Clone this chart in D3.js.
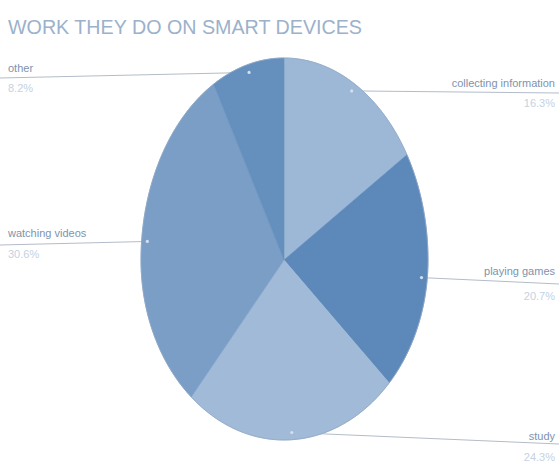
<!DOCTYPE html>
<html>
<head>
<meta charset="utf-8">
<script src="https://cdn.jsdelivr.net/npm/d3@7/dist/d3.min.js"></script>
<style>
  html, body { margin: 0; padding: 0; background: #ffffff; }
  svg { display: block; }
  text { font-family: "Liberation Sans Narrow", "Liberation Sans", Arial, sans-serif; }
</style>
</head>
<body>
<svg id="chart" width="559" height="468"></svg>
<script>
// Activities and their shares (%), clockwise from 12 o'clock
const categories = ["collecting information", "playing games", "study", "watching videos", "other"];
const shares = [16.3, 20.7, 24.3, 30.6, 8.2];
const shareLabels = ["16.3%", "20.7%", "24.3%", "30.6%", "8.2%"];
const sliceColors = ["#9db8d6", "#5c89ba", "#a0bad7", "#7b9ec6", "#6590be"];

const svg = d3.select("#chart");

// Unit-circle coordinates mapped onto the tall oval pie
const x = d3.scaleLinear().domain([-1, 0, 1]).range([141, 284, 428]);
const y = d3.scaleLinear().domain([-1, 0, 1]).range([58, 260, 440]);

const pie = d3.pie().sort(null).value(d => d.value);
const arcs = pie(categories.map((c, i) => ({ name: c, value: shares[i], label: shareLabels[i], color: sliceColors[i] })));

const unit = a => [Math.sin(a), -Math.cos(a)];
const line = d3.line().x(p => x(p[0])).y(p => y(p[1]));

function slicePoints(d) {
  const pts = [[0, 0]];
  const n = Math.max(8, Math.ceil((d.endAngle - d.startAngle) / 0.01));
  for (let k = 0; k <= n; k++) {
    pts.push(unit(d.startAngle + (d.endAngle - d.startAngle) * k / n));
  }
  pts.push([0, 0]);
  return pts;
}

// Label layout per slice: side and text baselines
const layout = {
  "collecting information": { side: "right", lineY: 93, nameY: 87, pctY: 107 },
  "playing games":          { side: "right", lineY: 284, nameY: 275, pctY: 300 },
  "study":                  { side: "right", lineY: 444, nameY: 440, pctY: 461 },
  "watching videos":        { side: "left",  lineY: 245, nameY: 237, pctY: 258 },
  "other":                  { side: "left",  lineY: 78,  nameY: 72,  pctY: 92 }
};

function anchorPoint(d) {
  const p = unit((d.startAngle + d.endAngle) / 2);
  return [x(p[0] * 0.96), y(p[1] * 0.96)];
}

// Leader lines sit underneath the pie
svg.append("g").selectAll("line").data(arcs).join("line")
  .attr("x1", d => anchorPoint(d)[0])
  .attr("y1", d => anchorPoint(d)[1])
  .attr("x2", d => layout[d.data.name].side === "right" ? 559 : 0)
  .attr("y2", d => layout[d.data.name].lineY)
  .attr("stroke", "#b3bcc8")
  .attr("stroke-width", 1);

// Slices
svg.append("g").selectAll("path").data(arcs).join("path")
  .attr("d", d => line(slicePoints(d)) + "Z")
  .attr("fill", d => d.data.color)
  .attr("stroke", d => d.data.color)
  .attr("stroke-width", 0.6);

// Thin outline round the oval
svg.append("path")
  .attr("d", line(d3.range(0, 361, 2).map(a => unit(a * Math.PI / 180))) + "Z")
  .attr("fill", "none")
  .attr("stroke", "#8ea7c3")
  .attr("stroke-width", 0.8);

// Anchor dots
svg.append("g").selectAll("circle").data(arcs).join("circle")
  .attr("cx", d => anchorPoint(d)[0])
  .attr("cy", d => anchorPoint(d)[1])
  .attr("r", 1.6)
  .attr("fill", "#d3e0ee");

// Category names and percentages
const labels = svg.append("g").selectAll("g").data(arcs).join("g");
labels.append("text")
  .attr("x", d => layout[d.data.name].side === "right" ? 555 : 8)
  .attr("y", d => layout[d.data.name].nameY)
  .attr("text-anchor", d => layout[d.data.name].side === "right" ? "end" : "start")
  .attr("font-size", 11)
  .attr("fill", "#7d93ae")
  .text(d => d.data.name);
labels.append("text")
  .attr("x", d => layout[d.data.name].side === "right" ? 555 : 8)
  .attr("y", d => layout[d.data.name].pctY)
  .attr("text-anchor", d => layout[d.data.name].side === "right" ? "end" : "start")
  .attr("font-size", 11)
  .attr("fill", "#c4d2e2")
  .text(d => d.data.label);

// Title
svg.append("text")
  .attr("x", 8)
  .attr("y", 34)
  .attr("font-size", 21)
  .attr("fill", "#9cb1ca")
  .attr("textLength", 354)
  .attr("lengthAdjust", "spacingAndGlyphs")
  .text("WORK THEY DO ON SMART DEVICES");
</script>
</body>
</html>
